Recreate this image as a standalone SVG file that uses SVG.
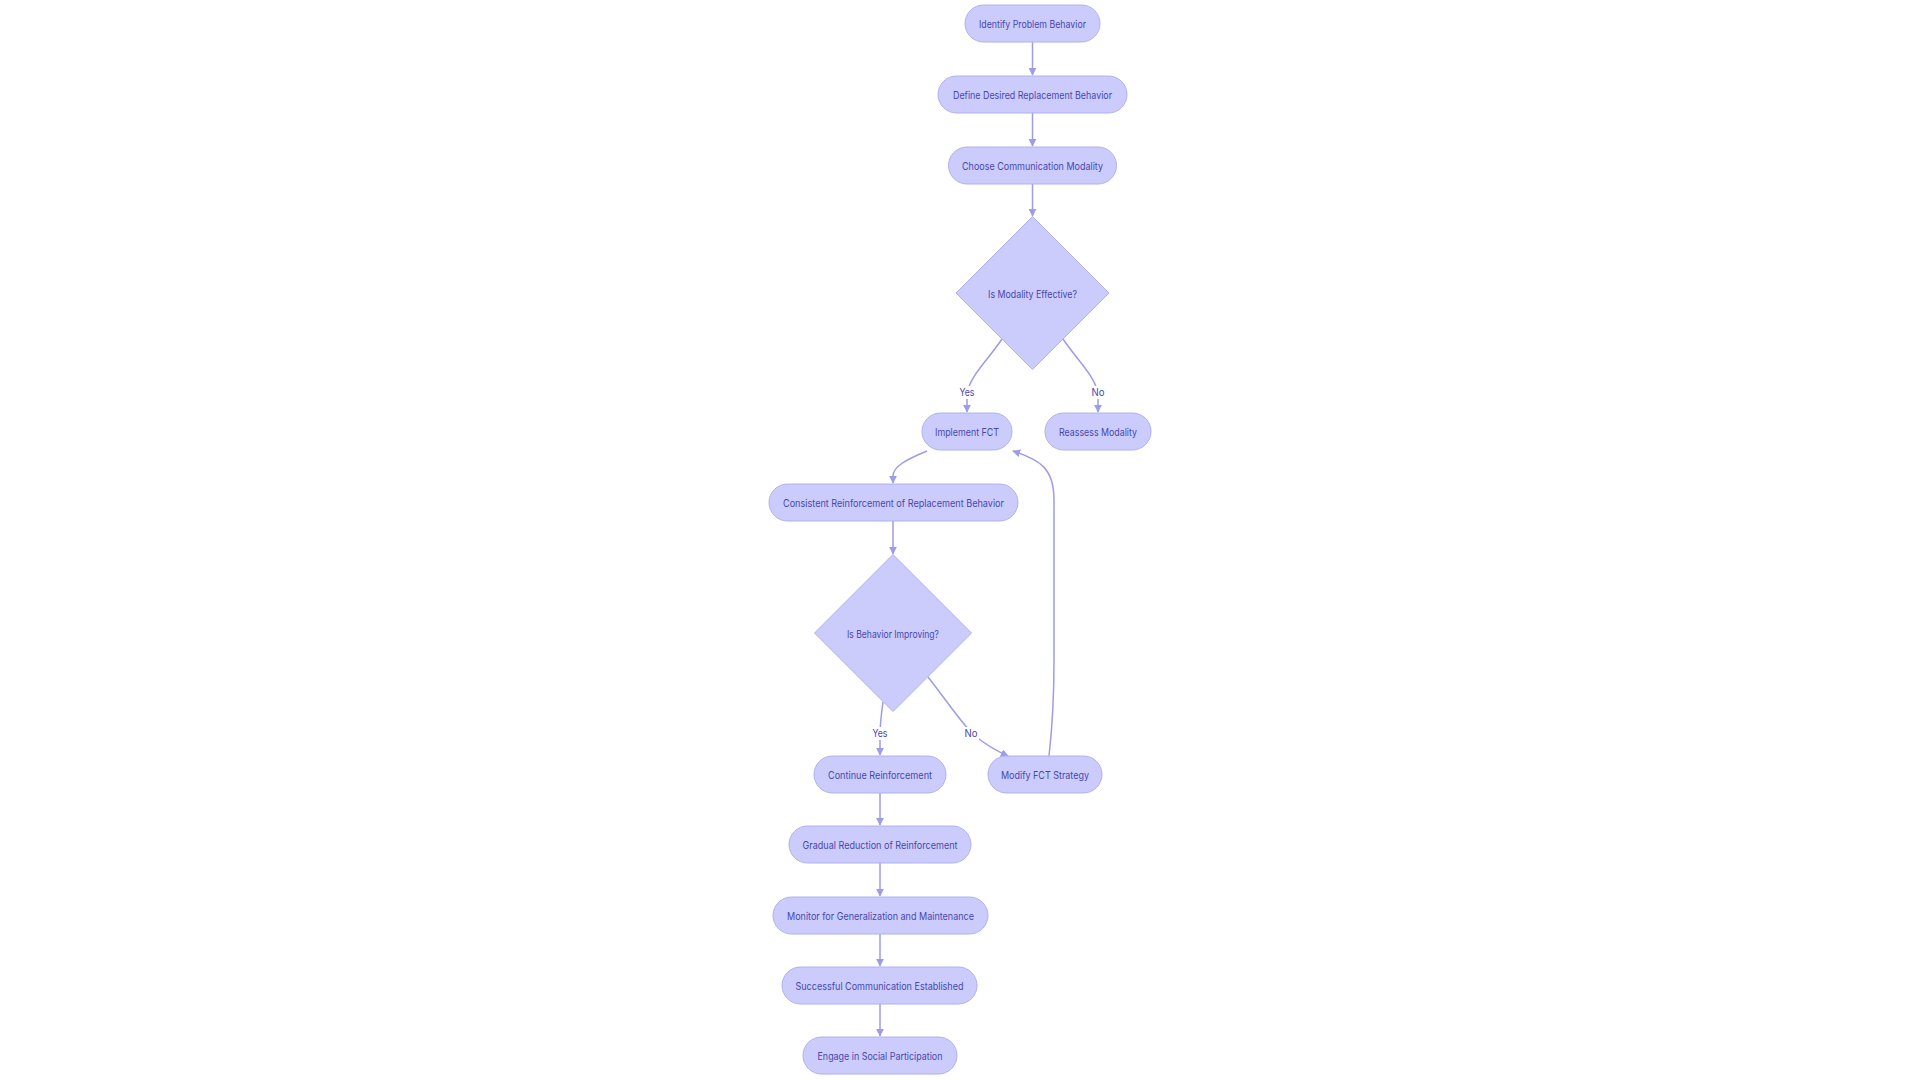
<svg xmlns="http://www.w3.org/2000/svg" width="1920" height="1080" viewBox="0 0 1920 1080">
<style>
.bg{fill:#ffffff}
.node rect,.node polygon{fill:#ccccfc;stroke:#b0b0f0;stroke-width:1}
.node text,.lbl text{font-family:Inter,"Liberation Sans",sans-serif;font-size:10.5px;fill:#4646b0;text-anchor:middle;dominant-baseline:central}
.edge{fill:none;stroke:#9c9ce8;stroke-width:1.5}
.lbl rect{fill:#ffffff}
</style>
<defs>
<marker id="arr" viewBox="0 0 10 10" refX="9" refY="5" markerWidth="8" markerHeight="8" markerUnits="userSpaceOnUse" orient="auto">
<path d="M0,0 L10,5 L0,10 z" fill="#9c9ce8"/>
</marker>
</defs>
<rect class="bg" x="0" y="0" width="1920" height="1080"/>
<g id="connectors">
<path class="edge" d="M1032.5,42 L1032.5,75" marker-end="url(#arr)"/>
<path class="edge" d="M1032.5,113 L1032.5,146" marker-end="url(#arr)"/>
<path class="edge" d="M1032.5,184 L1032.5,216" marker-end="url(#arr)"/>
<path class="edge" d="M1002,339 C988,360 968,378 967,395 L967,412" marker-end="url(#arr)"/>
<path class="edge" d="M1063,339 C1077,360 1097,378 1098,395 L1098,412" marker-end="url(#arr)"/>
<path class="edge" d="M927,451 C905,460 893,467 893,476 L893,483" marker-end="url(#arr)"/>
<path class="edge" d="M893,521 L893,554" marker-end="url(#arr)"/>
<path class="edge" d="M883,702 C881,716 880,726 880,736 L880,755" marker-end="url(#arr)"/>
<path class="edge" d="M928,677 C950,705 962,724 975,736 Q990,748 1008,756" marker-end="url(#arr)"/>
<path class="edge" d="M1049,756 C1052,730 1054,700 1054,660 L1054,500 C1054,468 1040,460 1013,451" marker-end="url(#arr)"/>
<path class="edge" d="M880,793 L880,825" marker-end="url(#arr)"/>
<path class="edge" d="M880,863 L880,896" marker-end="url(#arr)"/>
<path class="edge" d="M880,934 L880,966" marker-end="url(#arr)"/>
<path class="edge" d="M880,1004 L880,1036" marker-end="url(#arr)"/>
</g>
<g id="edge-labels">
<g class="lbl"><rect x="958" y="386" width="18" height="13"/><text x="967" y="392" textLength="15" lengthAdjust="spacingAndGlyphs">Yes</text></g>
<g class="lbl"><rect x="1090" y="386" width="16" height="13"/><text x="1098" y="392" textLength="13" lengthAdjust="spacingAndGlyphs">No</text></g>
<g class="lbl"><rect x="871" y="727" width="18" height="13"/><text x="880" y="733" textLength="15" lengthAdjust="spacingAndGlyphs">Yes</text></g>
<g class="lbl"><rect x="963" y="727" width="16" height="13"/><text x="971" y="733" textLength="13" lengthAdjust="spacingAndGlyphs">No</text></g>
</g>
<g id="n1" class="node"><rect x="965" y="5" width="135" height="37" rx="18.5"/><text x="1032.5" y="24" textLength="107" lengthAdjust="spacingAndGlyphs">Identify Problem Behavior</text></g>
<g id="n2" class="node"><rect x="938" y="76" width="189" height="37" rx="18.5"/><text x="1032.5" y="95" textLength="159" lengthAdjust="spacingAndGlyphs">Define Desired Replacement Behavior</text></g>
<g id="n3" class="node"><rect x="948.5" y="147" width="168" height="37" rx="18.5"/><text x="1032.5" y="166" textLength="141" lengthAdjust="spacingAndGlyphs">Choose Communication Modality</text></g>
<g id="d1" class="node"><polygon points="1032.5,216.5 1109,293 1032.5,369.5 956,293"/><text x="1032.5" y="294" textLength="89" lengthAdjust="spacingAndGlyphs">Is Modality Effective?</text></g>
<g id="n4" class="node"><rect x="922" y="413" width="90" height="37" rx="18.5"/><text x="967" y="432" textLength="64" lengthAdjust="spacingAndGlyphs">Implement FCT</text></g>
<g id="n5" class="node"><rect x="1045" y="413" width="106" height="37" rx="18.5"/><text x="1098" y="432" textLength="78" lengthAdjust="spacingAndGlyphs">Reassess Modality</text></g>
<g id="n6" class="node"><rect x="769" y="484" width="249" height="37" rx="18.5"/><text x="893.5" y="503" textLength="221" lengthAdjust="spacingAndGlyphs">Consistent Reinforcement of Replacement Behavior</text></g>
<g id="d2" class="node"><polygon points="893,554.5 971.5,633 893,711.5 814.5,633"/><text x="893" y="634" textLength="92" lengthAdjust="spacingAndGlyphs">Is Behavior Improving?</text></g>
<g id="n7" class="node"><rect x="814" y="756" width="132" height="37" rx="18.5"/><text x="880" y="775" textLength="104" lengthAdjust="spacingAndGlyphs">Continue Reinforcement</text></g>
<g id="n8" class="node"><rect x="988" y="756" width="114" height="37" rx="18.5"/><text x="1045" y="775" textLength="88" lengthAdjust="spacingAndGlyphs">Modify FCT Strategy</text></g>
<g id="n9" class="node"><rect x="789" y="826" width="182" height="37" rx="18.5"/><text x="880" y="845" textLength="155" lengthAdjust="spacingAndGlyphs">Gradual Reduction of Reinforcement</text></g>
<g id="n10" class="node"><rect x="773" y="897" width="215" height="37" rx="18.5"/><text x="880.5" y="916" textLength="187" lengthAdjust="spacingAndGlyphs">Monitor for Generalization and Maintenance</text></g>
<g id="n11" class="node"><rect x="782" y="967" width="195" height="37" rx="18.5"/><text x="879.5" y="986" textLength="168" lengthAdjust="spacingAndGlyphs">Successful Communication Established</text></g>
<g id="n12" class="node"><rect x="803" y="1037" width="154" height="37" rx="18.5"/><text x="880" y="1056" textLength="125" lengthAdjust="spacingAndGlyphs">Engage in Social Participation</text></g>
</svg>
